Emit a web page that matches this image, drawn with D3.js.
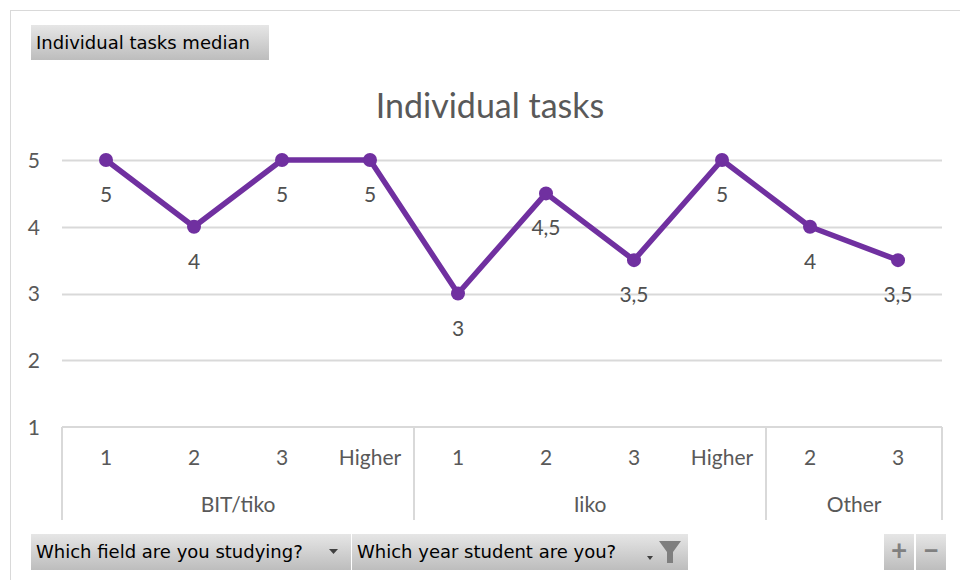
<!DOCTYPE html>
<html>
<head>
<meta charset="utf-8">
<script src="https://cdn.jsdelivr.net/npm/d3@7"></script>
<style>
  body { margin: 0; background: #fff; }
  svg { display: block; }
</style>
</head>
<body>
<div id="chart"></div>
<script>
// data
var groups = ["BIT/tiko", "Iiko", "Other"];
var groupSizes = [4, 4, 2];
var years = ["1", "2", "3", "Higher", "1", "2", "3", "Higher", "2", "3"];
var medians = [5, 4, 5, 5, 3, 4.5, 3.5, 5, 4, 3.5];
var yTicks = [1, 2, 3, 4, 5];

var W = 960, H = 580;
var margin = {left: 62, right: 18};
var purple = "#7030a0";
var font = "Lato, 'Open Sans', sans-serif";
var fs = 21;

var svg = d3.select("#chart").append("svg")
  .attr("width", W).attr("height", H);

// outer frame
svg.append("rect")
  .attr("x", 10.5).attr("y", 10.5)
  .attr("width", W).attr("height", H)
  .attr("fill", "none").attr("stroke", "#d9d9d9");

// gradient for the pivot buttons
var defs = svg.append("defs");
var grad = defs.append("linearGradient").attr("id", "btn").attr("x1", 0).attr("x2", 0).attr("y1", 0).attr("y2", 1);
grad.append("stop").attr("offset", "0%").attr("stop-color", "#e6e6e6");
grad.append("stop").attr("offset", "100%").attr("stop-color", "#bdbdbd");

function button(x, y, w, h, label) {
  svg.append("rect").attr("x", x).attr("y", y).attr("width", w).attr("height", h)
    .attr("fill", "url(#btn)");
  if (label)
    svg.append("text").attr("x", x + 5).attr("y", y + h / 2 + 6)
      .attr("font-family", "'DejaVu Sans', sans-serif")
      .attr("font-size", 18).attr("fill", "#000").text(label);
}

button(31, 25, 238, 35, "Individual tasks median");

// title
svg.append("text")
  .attr("x", 490).attr("y", 118)
  .attr("text-anchor", "middle")
  .attr("font-family", font).attr("font-size", 34)
  .attr("fill", "#595959")
  .text("Individual tasks");

// scales
var x = d3.scaleBand()
  .domain(d3.range(years.length))
  .range([margin.left, W - margin.right]);

var y = d3.scaleLinear()
  .domain([1, 5])
  .range([427, 160]);

// gridlines
svg.append("g").selectAll("line")
  .data(yTicks.filter(function(d) { return d > 1; }))
  .enter().append("line")
    .attr("x1", margin.left).attr("x2", W - margin.right)
    .attr("y1", function(d) { return Math.round(y(d)) + 0.5; })
    .attr("y2", function(d) { return Math.round(y(d)) + 0.5; })
    .attr("stroke", "#d9d9d9").attr("stroke-width", 2);

// y axis labels
var yAxis = svg.append("g")
  .attr("transform", "translate(" + (margin.left - 22) + ",0)")
  .call(d3.axisLeft(y).tickValues(yTicks).tickFormat(d3.format("d")).tickSize(0).tickPadding(0));
yAxis.select(".domain").remove();
yAxis.selectAll("text")
  .attr("font-family", font).attr("font-size", fs)
  .attr("fill", "#595959").attr("dy", "0.35em");

// multi-level category axis
var axisTop = 427, axisBottom = 520;
var axisG = svg.append("g").attr("stroke", "#d9d9d9").attr("stroke-width", 2);
axisG.append("line")
  .attr("x1", margin.left).attr("x2", W - margin.right)
  .attr("y1", axisTop).attr("y2", axisTop);

var cum = 0;
var bounds = [0];
groupSizes.forEach(function(s) { cum += s; bounds.push(cum); });

bounds.forEach(function(b) {
  var bx = b < years.length ? x(b) : x.range()[1];
  axisG.append("line")
    .attr("x1", bx).attr("x2", bx)
    .attr("y1", axisTop).attr("y2", axisBottom);
});

svg.append("g").selectAll("text")
  .data(years)
  .enter().append("text")
    .attr("x", function(d, i) { return x(i) + x.bandwidth() / 2; })
    .attr("y", 465)
    .attr("text-anchor", "middle")
    .attr("font-family", font).attr("font-size", fs).attr("fill", "#595959")
    .text(function(d) { return d; });

svg.append("g").selectAll("text")
  .data(groups)
  .enter().append("text")
    .attr("x", function(d, i) {
      var x0 = x(bounds[i]);
      var x1 = bounds[i + 1] < years.length ? x(bounds[i + 1]) : x.range()[1];
      return (x0 + x1) / 2;
    })
    .attr("y", 512)
    .attr("text-anchor", "middle")
    .attr("font-family", font).attr("font-size", fs).attr("fill", "#595959")
    .text(function(d) { return d; });

// line + markers
var line = d3.line()
  .x(function(d, i) { return x(i) + x.bandwidth() / 2; })
  .y(function(d) { return y(d); });

svg.append("path")
  .datum(medians)
  .attr("d", line)
  .attr("fill", "none")
  .attr("stroke", purple)
  .attr("stroke-width", 5.5)
  .attr("stroke-linejoin", "round");

svg.append("g").selectAll("circle")
  .data(medians)
  .enter().append("circle")
    .attr("cx", function(d, i) { return x(i) + x.bandwidth() / 2; })
    .attr("cy", function(d) { return y(d); })
    .attr("r", 7)
    .attr("fill", purple);

// data labels below each point
svg.append("g").selectAll("text")
  .data(medians)
  .enter().append("text")
    .attr("x", function(d, i) { return x(i) + x.bandwidth() / 2; })
    .attr("y", function(d) { return y(d) + 42; })
    .attr("text-anchor", "middle")
    .attr("font-family", font).attr("font-size", fs).attr("fill", "#505050")
    .text(function(d) { return String(d).replace(".", ","); });

// pivot field buttons
button(31, 534, 320, 36, "Which field are you studying?");
button(352, 534, 336, 36, "Which year student are you?");
// dropdown arrow
svg.append("path").attr("d", "M329,549 L338,549 L333.5,554 Z").attr("fill", "#404040");
// filter icon
svg.append("path").attr("d", "M659,541 L681,541 L673,552 L673,563 L667,563 L667,552 Z").attr("fill", "#7f7f7f");
svg.append("path").attr("d", "M647,556 L653,556 L650,560 Z").attr("fill", "#404040");

button(884, 534, 30, 36, null);
button(916, 534, 30, 36, null);
svg.append("text").attr("x", 899).attr("y", 560).attr("text-anchor", "middle")
  .attr("font-family", font).attr("font-size", 28).attr("font-weight", "bold").attr("fill", "#808080").text("+");
svg.append("text").attr("x", 931).attr("y", 560).attr("text-anchor", "middle")
  .attr("font-family", font).attr("font-size", 28).attr("font-weight", "bold").attr("fill", "#808080").text("\u2212");
</script>
</body>
</html>
